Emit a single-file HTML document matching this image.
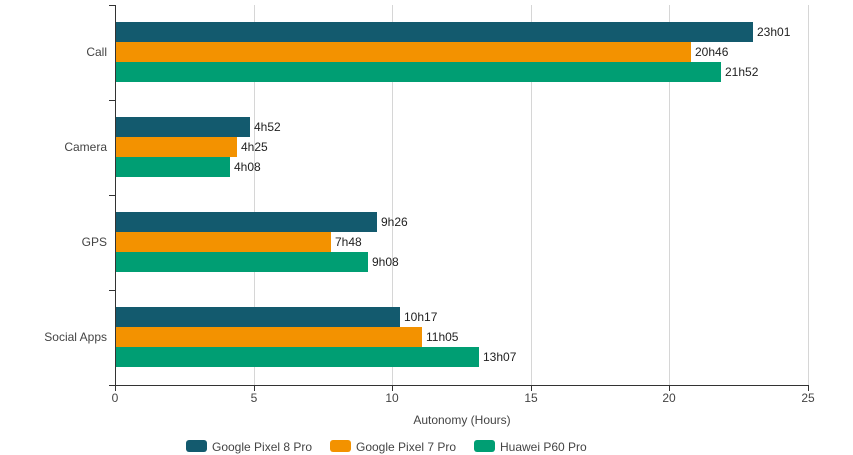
<!DOCTYPE html>
<html><head><meta charset="utf-8"><style>
body{margin:0;background:#fff}
svg{display:block;font-family:"Liberation Sans",sans-serif}
</style></head><body>
<svg width="853" height="455" viewBox="0 0 853 455">
<g stroke="#d6d6d6" stroke-width="1">
<line x1="254.5" y1="5" x2="254.5" y2="385"/>
<line x1="392.5" y1="5" x2="392.5" y2="385"/>
<line x1="531.5" y1="5" x2="531.5" y2="385"/>
<line x1="669.5" y1="5" x2="669.5" y2="385"/>
<line x1="808.5" y1="5" x2="808.5" y2="385"/>
</g>
<g>
<rect x="116" y="22" width="637" height="20" fill="#135a6e"/>
<rect x="116" y="42" width="575" height="20" fill="#f39200"/>
<rect x="116" y="62" width="605" height="20" fill="#009e73"/>
<rect x="116" y="117" width="134" height="20" fill="#135a6e"/>
<rect x="116" y="137" width="121" height="20" fill="#f39200"/>
<rect x="116" y="157" width="114" height="20" fill="#009e73"/>
<rect x="116" y="212" width="261" height="20" fill="#135a6e"/>
<rect x="116" y="232" width="215" height="20" fill="#f39200"/>
<rect x="116" y="252" width="252" height="20" fill="#009e73"/>
<rect x="116" y="307" width="284" height="20" fill="#135a6e"/>
<rect x="116" y="327" width="306" height="20" fill="#f39200"/>
<rect x="116" y="347" width="363" height="20" fill="#009e73"/>
</g>
<g font-size="12" fill="#222">
<text x="757" y="36">23h01</text>
<text x="695" y="56">20h46</text>
<text x="725" y="76">21h52</text>
<text x="254" y="131">4h52</text>
<text x="241" y="151">4h25</text>
<text x="234" y="171">4h08</text>
<text x="381" y="226">9h26</text>
<text x="335" y="246">7h48</text>
<text x="372" y="266">9h08</text>
<text x="404" y="321">10h17</text>
<text x="426" y="341">11h05</text>
<text x="483" y="361">13h07</text>
</g>
<g stroke="#333" stroke-width="1">
<line x1="115.5" y1="5" x2="115.5" y2="385"/>
<line x1="115" y1="385.5" x2="809" y2="385.5"/>
<line x1="109" y1="5.5" x2="115" y2="5.5"/>
<line x1="109" y1="100.5" x2="115" y2="100.5"/>
<line x1="109" y1="195.5" x2="115" y2="195.5"/>
<line x1="109" y1="290.5" x2="115" y2="290.5"/>
<line x1="109" y1="385.5" x2="115" y2="385.5"/>
<line x1="115.5" y1="385" x2="115.5" y2="391"/>
<line x1="254.5" y1="385" x2="254.5" y2="391"/>
<line x1="392.5" y1="385" x2="392.5" y2="391"/>
<line x1="531.5" y1="385" x2="531.5" y2="391"/>
<line x1="669.5" y1="385" x2="669.5" y2="391"/>
<line x1="808.5" y1="385" x2="808.5" y2="391"/>
</g>
<g font-size="12" fill="#444" text-anchor="end">
<text x="107" y="56">Call</text>
<text x="107" y="151">Camera</text>
<text x="107" y="246">GPS</text>
<text x="107" y="341">Social Apps</text>
</g>
<g font-size="12" fill="#444" text-anchor="middle">
<text x="115" y="402">0</text>
<text x="254" y="402">5</text>
<text x="392" y="402">10</text>
<text x="531" y="402">15</text>
<text x="669" y="402">20</text>
<text x="808" y="402">25</text>
<text x="462" y="424">Autonomy (Hours)</text>
</g>
<g font-size="12" fill="#444">
<rect x="186" y="440" width="21" height="12" rx="3" fill="#135a6e"/>
<text x="212" y="451">Google Pixel 8 Pro</text>
<rect x="330" y="440" width="21" height="12" rx="3" fill="#f39200"/>
<text x="356" y="451">Google Pixel 7 Pro</text>
<rect x="474" y="440" width="21" height="12" rx="3" fill="#009e73"/>
<text x="500" y="451">Huawei P60 Pro</text>
</g>
</svg>
</body></html>
